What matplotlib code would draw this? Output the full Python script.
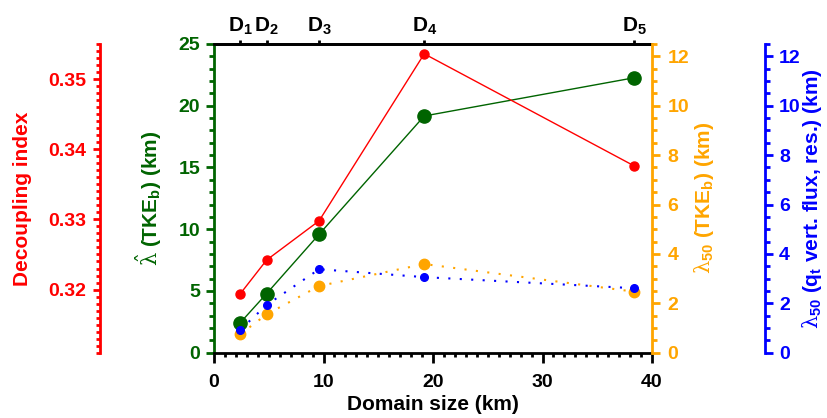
import matplotlib
matplotlib.use("Agg")
import matplotlib.pyplot as plt
from matplotlib.ticker import MultipleLocator, FormatStrFormatter, NullLocator

plt.rcParams['font.family'] = ['Liberation Sans', 'DejaVu Sans']
plt.rcParams['font.weight'] = 'bold'
plt.rcParams['mathtext.fontset'] = 'custom'
plt.rcParams['mathtext.rm'] = 'DejaVu Serif:normal'
plt.rcParams['mathtext.bf'] = 'Liberation Sans:bold'
plt.rcParams['mathtext.it'] = 'DejaVu Serif:normal'

# Data
domain_size = [2.4, 4.8, 9.6, 19.2, 38.4]
domain_labels = [r'$\mathbf{D_1}$', r'$\mathbf{D_2}$', r'$\mathbf{D_3}$', r'$\mathbf{D_4}$', r'$\mathbf{D_5}$']
decoupling = [0.3194, 0.3242, 0.3298, 0.3536, 0.3376]
lam_hat_tke = [2.43, 4.78, 9.59, 19.17, 22.27]
lam50_tke = [0.75, 1.55, 2.70, 3.59, 2.47]
lam50_qt = [0.93, 1.93, 3.38, 3.06, 2.61]

RED = '#ff0000'
GREEN = '#006400'
ORANGE = '#ffa500'
BLUE = '#0000ff'
TFS = 14   # tick labels
LFS = 15   # axis labels

fig = plt.figure(figsize=(8.27, 4.18), dpi=100)
ax = fig.add_axes([214/827, 1-352.7/418, 438/827, 308.7/418])

ax_or = ax.twinx()
ax_bl = ax.twinx()
ax_rd = ax.twinx()

# host: green
ax.plot(domain_size, lam_hat_tke, '-', color=GREEN, lw=1.0, marker='o', ms=9.5, zorder=3)
ax.set_xlim(0, 40)
ax.set_ylim(0, 25)
ax.xaxis.set_major_locator(MultipleLocator(10))
ax.xaxis.set_minor_locator(MultipleLocator(1))
ax.yaxis.set_major_locator(MultipleLocator(5))
ax.yaxis.set_minor_locator(MultipleLocator(1))
for s in ['top', 'bottom']:
    ax.spines[s].set_color('black')
    ax.spines[s].set_linewidth(2)
ax.spines['left'].set_color(GREEN)
ax.spines['left'].set_linewidth(2)
ax.spines['right'].set_visible(False)
ax.tick_params(axis='x', which='major', direction='out', length=7, width=2, labelsize=TFS, pad=8, colors='black')
ax.tick_params(axis='x', which='minor', direction='out', length=2.8, width=2)
ax.tick_params(axis='y', which='major', direction='out', length=6, width=2, labelsize=TFS, pad=4, colors=GREEN)
ax.tick_params(axis='y', which='minor', direction='out', length=3.5, width=2, colors=GREEN)
ax.set_xlabel('Domain size (km)', fontsize=LFS, fontweight='bold')
ax.xaxis.set_label_coords(0.5, -0.138)
ax.set_ylabel(r'$\hat{\mathrm{\lambda}}$ (TKE$_\mathbf{b}$) (km)', fontsize=LFS, fontweight='bold', color=GREEN)
ax.yaxis.set_label_coords(-0.115, 0.5)

# orange
ax_or.plot(domain_size, lam50_tke, color=ORANGE, lw=1.5, linestyle=(0, (1, 4.5)), marker='o', ms=7.5)
ax_or.set_ylim(0, 12.5)
ax_or.yaxis.set_major_locator(MultipleLocator(2))
ax_or.yaxis.set_minor_locator(MultipleLocator(0.5))
for s in ['top', 'bottom', 'left']:
    ax_or.spines[s].set_visible(False)
ax_or.spines['right'].set_color(ORANGE)
ax_or.spines['right'].set_linewidth(2)
ax_or.tick_params(axis='y', which='major', direction='out', length=6, width=2, labelsize=TFS, pad=5, colors=ORANGE)
ax_or.tick_params(axis='y', which='minor', direction='out', length=3.5, width=2, colors=ORANGE)
ax_or.set_ylabel(r'$\mathrm{\lambda}_\mathbf{50}$ (TKE$_\mathbf{b}$) (km)', fontsize=LFS, fontweight='bold', color=ORANGE)
ax_or.yaxis.set_label_coords(1.092, 0.5)

# blue
ax_bl.plot(domain_size, lam50_qt, color=BLUE, lw=1.5, linestyle=(0, (1, 4.5)), marker='o', ms=5.5)
ax_bl.set_ylim(0, 12.5)
ax_bl.yaxis.set_major_locator(MultipleLocator(2))
ax_bl.yaxis.set_minor_locator(MultipleLocator(0.5))
for s in ['top', 'bottom', 'left']:
    ax_bl.spines[s].set_visible(False)
ax_bl.spines['right'].set_position(('axes', 1.258))
ax_bl.spines['right'].set_color(BLUE)
ax_bl.spines['right'].set_linewidth(2)
ax_bl.tick_params(axis='y', which='major', direction='out', length=6, width=2, labelsize=TFS, pad=4, colors=BLUE)
ax_bl.tick_params(axis='y', which='minor', direction='out', length=3.5, width=2, colors=BLUE)
ax_bl.set_ylabel(r'$\mathrm{\lambda}_\mathbf{50}$ (q$_\mathbf{t}$ vert. flux, res.) (km)', fontsize=LFS, fontweight='bold', color=BLUE)
ax_bl.yaxis.set_label_coords(1.339, 0.5)

# red
ax_rd.plot(domain_size, decoupling, '-', color=RED, lw=1.0, marker='o', ms=6.5)
ax_rd.set_ylim(0.311, 0.355)
ax_rd.yaxis.set_major_locator(MultipleLocator(0.01))
ax_rd.yaxis.set_minor_locator(MultipleLocator(0.001))
for s in ['top', 'bottom', 'right']:
    ax_rd.spines[s].set_visible(False)
ax_rd.spines['left'].set_visible(True)
ax_rd.spines['left'].set_position(('axes', -0.26))
ax_rd.spines['left'].set_color(RED)
ax_rd.spines['left'].set_linewidth(2)
ax_rd.yaxis.set_ticks_position('left')
ax_rd.yaxis.set_label_position('left')
ax_rd.tick_params(axis='y', which='major', direction='out', length=5, width=2, labelsize=TFS, pad=5, colors=RED)
ax_rd.tick_params(axis='y', which='minor', direction='out', length=3, width=2, colors=RED)
ax_rd.yaxis.set_major_formatter(FormatStrFormatter('%.2f'))
ax_rd.set_ylabel('Decoupling index', fontsize=LFS, fontweight='bold', color=RED)
ax_rd.yaxis.set_label_coords(-0.416, 0.5)

# top axis with domain labels
top = ax.secondary_xaxis('top')
top.set_xticks(domain_size)
top.set_xticklabels(domain_labels, fontsize=LFS)
top.xaxis.set_minor_locator(NullLocator())
top.tick_params(axis='x', direction='out', length=3, width=2, pad=2)
top.spines['top'].set_linewidth(2)

fig.savefig('out.png', dpi=100)
